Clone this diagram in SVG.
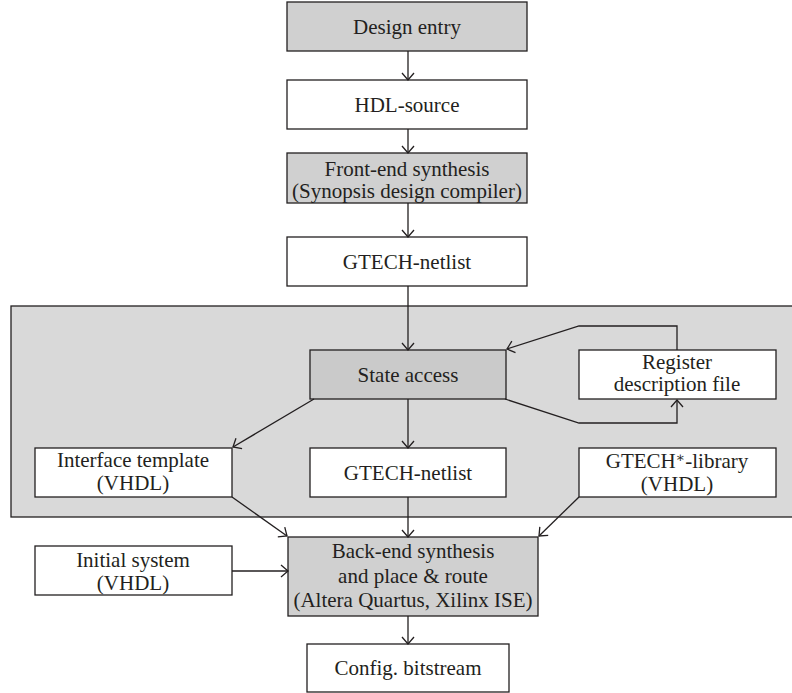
<svg xmlns="http://www.w3.org/2000/svg" width="792" height="693" viewBox="0 0 792 693">
  <defs>
    <marker id="arrow" markerUnits="userSpaceOnUse" markerWidth="16" markerHeight="16" viewBox="-10 -8 12 16" refX="0" refY="0" orient="auto">
      <path d="M -7,-6 L 0,0 L -7,6" fill="none" stroke="#231f20" stroke-width="1.3"/>
    </marker>
    <style>
      .box { stroke: #231f20; stroke-width: 1.3; }
      .white { fill: #ffffff; }
      .gray { fill: #d0d0d0; }
      .group { fill: #d9d9d9; stroke: #231f20; stroke-width: 1.3; }
      .edge { fill: none; stroke: #231f20; stroke-width: 1.3; marker-end: url(#arrow); }
      .label { font-family: 'Liberation Serif', 'DejaVu Serif', serif; font-size: 21px; fill: #231f20; text-anchor: middle; }
    </style>
  </defs>

  <!-- container for the state-access stage -->
  <rect class="group" x="11" y="306" width="800" height="211"/>

  <g font-family="Liberation Serif, serif">
  <g id="design-entry">
    <rect class="box gray" x="287" y="2" width="240" height="49"/>
    <text class="label" x="407" y="34">Design entry</text>
  </g>
  <g id="hdl-source">
    <rect class="box white" x="287" y="80" width="240" height="49"/>
    <text class="label" x="407" y="112">HDL-source</text>
  </g>
  <g id="front-end">
    <rect class="box gray" x="287" y="153" width="240" height="50"/>
    <text class="label" x="407" y="176">Front-end synthesis</text>
    <text class="label" x="407" y="198">(Synopsis design compiler)</text>
  </g>
  <g id="gtech-netlist-1">
    <rect class="box white" x="287" y="237" width="240" height="49"/>
    <text class="label" x="407" y="269">GTECH-netlist</text>
  </g>
  <g id="state-access">
    <rect class="box" fill="#cacaca" x="310" y="350" width="196" height="49"/>
    <text class="label" x="408" y="382">State access</text>
  </g>
  <g id="register-file">
    <rect class="box white" x="579" y="350" width="197" height="49"/>
    <text class="label" x="677" y="369">Register</text>
    <text class="label" x="677" y="391">description file</text>
  </g>
  <g id="interface-template">
    <rect class="box white" x="35" y="448" width="197" height="49"/>
    <text class="label" x="133" y="467">Interface template</text>
    <text class="label" x="133" y="490">(VHDL)</text>
  </g>
  <g id="gtech-netlist-2">
    <rect class="box white" x="310" y="448" width="196" height="49"/>
    <text class="label" x="408" y="480">GTECH-netlist</text>
  </g>
  <g id="gtech-library">
    <rect class="box white" x="579" y="448" width="197" height="49"/>
    <text class="label" x="677" y="468">GTECH<tspan font-size="14" dy="-6">∗</tspan><tspan dy="6">-library</tspan></text>
    <text class="label" x="677" y="491">(VHDL)</text>
  </g>
  <g id="initial-system">
    <rect class="box white" x="35" y="546" width="197" height="49"/>
    <text class="label" x="133" y="567">Initial system</text>
    <text class="label" x="133" y="590">(VHDL)</text>
  </g>
  <g id="back-end">
    <rect class="box gray" x="288" y="537" width="250" height="79"/>
    <text class="label" x="413" y="558">Back-end synthesis</text>
    <text class="label" x="413" y="583">and place &amp; route</text>
    <text class="label" x="413" y="607">(Altera Quartus, Xilinx ISE)</text>
  </g>
  <g id="bitstream">
    <rect class="box white" x="307" y="644" width="202" height="48"/>
    <text class="label" x="408" y="675">Config. bitstream</text>
  </g>
  </g>

  <g id="connectors">
    <path class="edge" d="M 408,51 L 408,80"/>
    <path class="edge" d="M 408,129 L 408,153"/>
    <path class="edge" d="M 408,203 L 408,237"/>
    <path class="edge" d="M 408,286 L 408,350"/>
    <path class="edge" d="M 408,399 L 408,448"/>
    <path class="edge" d="M 314,399 L 233,447"/>
    <path class="edge" d="M 505,399 L 579,423 L 677,423 L 677,400"/>
    <path class="edge" d="M 677,350 L 677,326 L 579,326 L 507,349"/>
    <path class="edge" d="M 232,497 L 287,536"/>
    <path class="edge" d="M 408,497 L 408,537"/>
    <path class="edge" d="M 579,497 L 539,536"/>
    <path class="edge" d="M 232,571 L 288,571"/>
    <path class="edge" d="M 408,616 L 408,644"/>
  </g>
</svg>
